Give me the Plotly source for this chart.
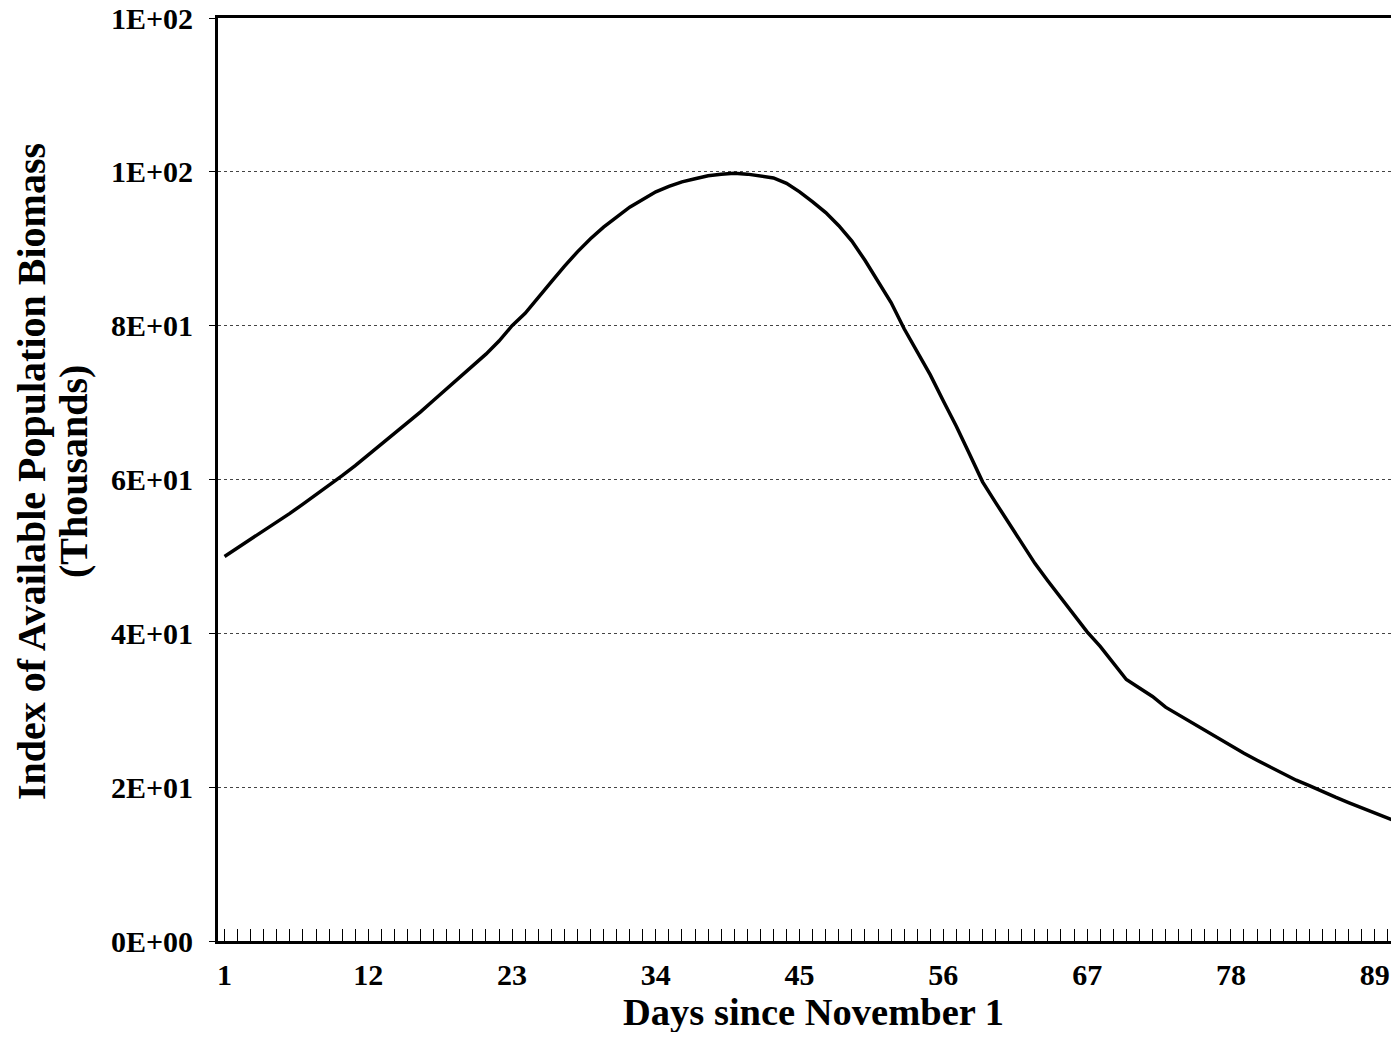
import plotly.graph_objects as go

# days since November 1 and the biomass index (thousands)
days = list(range(1, 92))
biomass = [
    50.0, 51.1, 52.2, 53.3, 54.4, 55.6, 56.8, 58.0, 59.3, 60.5,
    61.8, 63.2, 64.5, 65.9, 67.3, 68.8, 70.3, 71.8, 73.3, 74.7,
    76.3, 78.0, 80.0, 81.6, 83.7, 85.7, 87.7, 89.6, 91.3, 92.8,
    94.1, 95.4, 96.4, 97.4, 98.1, 98.7, 99.1, 99.5, 99.7, 99.8,
    99.7, 99.5, 99.2, 98.5, 97.4, 96.1, 94.7, 93.0, 91.0, 88.5,
    85.8, 83.0, 79.6, 76.6, 73.6, 70.2, 66.9, 63.3, 59.7, 57.0,
    54.3, 51.7, 49.1, 46.8, 44.6, 42.3, 40.2, 38.3, 36.1, 34.0,
    32.9, 31.8, 30.4, 29.4, 28.4, 27.3, 26.3, 25.4, 24.4, 23.5,
    22.6, 21.7, 20.9, 20.2, 19.4, 18.7, 18.0, 17.3, 16.6, 16.0,
    15.3,
]

x_tick_days = [1, 12, 23, 34, 45, 56, 67, 78, 89]
y_tick_vals = [0, 20, 40, 60, 80, 100, 120]
y_tick_text = ["0E+00", "2E+01", "4E+01", "6E+01", "8E+01", "1E+02", "1E+02"]
x_title = "Days since November 1"
y_title_lines = ["Index of Available Population Biomass", "(Thousands)"]

FONT = "Liberation Serif"

fig = go.Figure()
fig.add_trace(
    go.Scatter(
        x=days,
        y=biomass,
        mode="lines",
        line=dict(color="black", width=3.5),
        showlegend=False,
    )
)

# page body adds an 8px margin, so the figure is sized to fit inside the window
fig.update_layout(
    width=1383,
    height=1024,
    margin=dict(l=210, r=0, t=10, b=91),
    paper_bgcolor="white",
    plot_bgcolor="white",
    font=dict(family=FONT, color="black"),
)

fig.update_xaxes(
    range=[0.5, 90.25],
    automargin=False,
    tickvals=x_tick_days,
    ticks="inside",
    ticklen=12,
    tickwidth=1,
    tickcolor="black",
    minor=dict(ticks="inside", ticklen=12, tickwidth=1, tickcolor="black", dtick=1, tick0=1),
    ticklabelstandoff=5,
    tickfont=dict(family=FONT, size=30, color="black", weight="bold"),
    showgrid=False,
    zeroline=False,
    showline=True,
    linecolor="black",
    linewidth=3,
    mirror=True,
)

fig.update_yaxes(
    range=[0, 120],
    automargin=False,
    tickvals=y_tick_vals,
    ticktext=y_tick_text,
    ticks="outside",
    ticklen=6,
    tickwidth=1,
    tickcolor="black",
    ticklabelstandoff=10,
    ticklabeloverflow="allow",
    tickfont=dict(family=FONT, size=30, color="black", weight="bold"),
    showgrid=True,
    gridcolor="#444444",
    gridwidth=1,
    griddash="dot",
    zeroline=False,
    showline=True,
    linecolor="black",
    linewidth=3,
    mirror=False,
)

# x title as an annotation so it sits exactly below the tick labels
fig.add_annotation(
    text=f"<b>{x_title}</b>",
    xref="paper",
    yref="paper",
    x=0.5,
    y=0,
    xshift=9,
    yshift=-71,
    xanchor="center",
    yanchor="middle",
    showarrow=False,
    font=dict(family=FONT, size=38.5, color="black"),
)

# two-line y title, set as rotated annotations to keep the tight line spacing
for text, shift in zip(y_title_lines, [-187, -145]):
    fig.add_annotation(
        text=f"<b>{text}</b>",
        xref="paper",
        yref="paper",
        x=0,
        y=0.508,
        xshift=shift,
        xanchor="center",
        yanchor="middle",
        textangle=-90,
        showarrow=False,
        font=dict(family=FONT, size=40, color="black"),
    )

fig.write_html("out.html")
